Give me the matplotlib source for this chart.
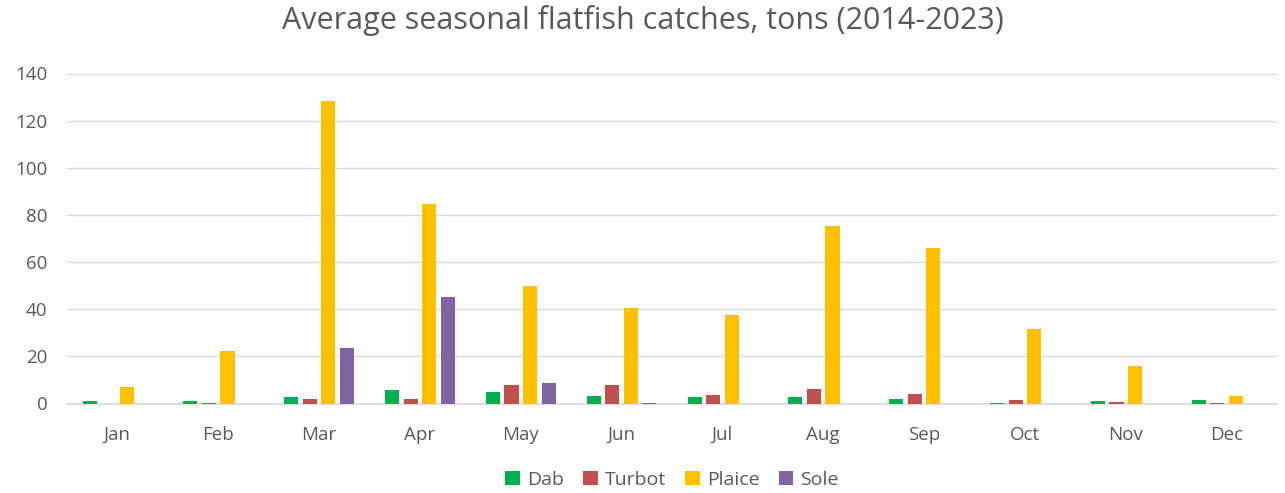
import matplotlib.pyplot as plt
import numpy as np

months = ["Jan", "Feb", "Mar", "Apr", "May", "Jun", "Jul", "Aug", "Sep", "Oct", "Nov", "Dec"]
dab = [1.2, 1.1, 2.8, 5.8, 4.8, 3.2, 2.7, 2.9, 2.0, 0.4, 1.1, 1.3]
turbot = [0.0, 0.3, 2.0, 1.9, 7.9, 7.7, 3.8, 6.0, 4.1, 1.5, 0.8, 0.2]
plaice = [7.0, 22.2, 128.5, 84.5, 50.0, 40.5, 37.5, 75.5, 66.0, 31.5, 16.0, 3.0]
sole = [0.0, 0.0, 23.5, 45.0, 8.8, 0.2, 0.0, 0.0, 0.0, 0.0, 0.0, 0.0]

series = {"Dab": dab, "Turbot": turbot, "Plaice": plaice, "Sole": sole}
colors = ["#00B050", "#C0504D", "#FFC000", "#8064A2"]

plt.rcParams['font.family'] = ['Open Sans', 'DejaVu Sans']
txt = "#595959"

fig = plt.figure(figsize=(12.85, 4.93), dpi=100)
ax = fig.add_axes([67 / 1285, 89.5 / 493, 1210 / 1285, 330 / 493])

x = np.arange(len(months))
step = 0.184
width = 0.14
for i, (name, vals) in enumerate(series.items()):
    ax.bar(x + (i - 1.5) * step, vals, width, color=colors[i], label=name, zorder=3)

ax.set_xlim(-0.5, len(months) - 0.5)
ax.set_ylim(0, 140)
ax.set_yticks(range(0, 141, 20))
ax.set_xticks(x)
ax.set_xticklabels(months)
ax.grid(axis='y', color="#d9d9d9", linewidth=1, zorder=0)
for s in ["top", "right", "left"]:
    ax.spines[s].set_visible(False)
ax.spines["bottom"].set_color("#d9d9d9")
ax.spines["bottom"].set_linewidth(1.2)
ax.tick_params(axis='both', length=0, labelsize=13.5, colors=txt)
ax.tick_params(axis='x', pad=16)
ax.tick_params(axis='y', pad=14)

fig.suptitle("Average seasonal flatfish catches, tons (2014-2023)", y=0.99,
             fontsize=22, color=txt)

ax.legend(loc='upper center', bbox_to_anchor=(0.5, -0.168), ncol=4, frameon=False,
          fontsize=14, handlelength=0.75, handleheight=0.75, handletextpad=0.35,
          columnspacing=1.0, labelcolor=txt, borderaxespad=0.2)

fig.savefig("out.png", dpi=100)
